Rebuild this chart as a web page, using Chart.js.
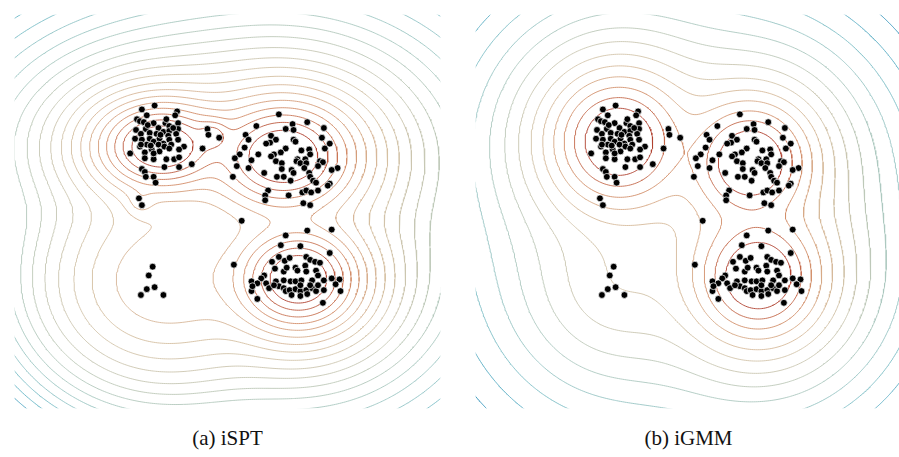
<!DOCTYPE html>
<html>
<head>
<meta charset="utf-8">
<script src="https://cdn.jsdelivr.net/npm/chart.js@4.4.0/dist/chart.umd.min.js"></script>
<style>
  html, body { margin: 0; padding: 0; background: #fff; overflow: hidden; }
  body { width: 899px; height: 457px; position: relative; }
  .panel { position: absolute; top: 10px; }
  #left { left: 10px; }
  #right { left: 471px; }
  .caption {
    position: absolute; top: 426px; width: 435px; text-align: center; line-height: 1.2;
    font-family: "Liberation Serif", "DejaVu Serif", serif; font-size: 21px; color: #111;
  }
</style>
</head>
<body>
<canvas id="left" class="panel" width="435" height="403"></canvas>
<canvas id="right" class="panel" width="435" height="403"></canvas>
<div class="caption" style="left:10px">(a) iSPT</div>
<div class="caption" style="left:471px">(b) iGMM</div>
<script>
// observations, same set in both panels
const clusterA = [
  [14.3,31.0],[16.6,30.4],[13.0,30.6],[13.5,30.0],[16.4,30.0],[12.5,29.6],[12.8,29.4],[13.2,29.3],
  [14.2,29.2],[15.4,29.2],[16.7,29.2],[15.8,28.9],[19.7,28.6],[12.4,28.5],[13.4,28.6],[14.7,28.7],
  [16.7,28.6],[13.8,28.2],[14.5,28.1],[15.2,28.3],[15.8,28.4],[12.9,28.1],[19.8,28.0],[20.9,27.7],
  [12.3,27.6],[13.8,27.6],[14.8,27.6],[15.7,27.9],[16.5,28.1],[13.0,27.5],[14.2,27.3],[15.2,27.1],
  [15.8,27.5],[16.7,27.5],[12.8,26.8],[13.5,27.0],[14.7,27.0],[15.3,26.8],[16.0,27.0],[17.3,26.8],
  [19.2,26.6],[11.8,26.1],[13.3,26.2],[14.0,26.5],[14.8,26.3],[15.8,26.6],[16.8,26.5],[13.3,25.6],
  [14.2,25.5],[15.5,25.5],[16.3,25.5],[16.8,25.7],[14.2,26.1],[18.1,25.0],[15.3,24.7],[16.8,24.7],
  [13.0,24.5],[13.3,24.2],[14.2,23.7],[14.4,23.1],[13.4,23.7],[12.7,21.5],[13.0,20.8],
  [13.6,29.0],[14.9,28.0],[13.9,26.9],[16.2,28.7],[12.9,27.0],[15.5,29.6]
];
const clusterB = [
  [27.0,30.1],[24.7,28.9],[27.7,28.6],[28.4,29.1],[28.5,28.5],[29.9,29.3],[31.6,28.7],[23.6,28.0],
  [23.9,27.5],[26.2,27.9],[26.7,27.5],[26.1,27.2],[25.7,27.1],[28.5,27.5],[28.7,27.3],[31.4,27.7],
  [31.7,26.6],[32.2,27.1],[23.5,26.7],[27.7,26.6],[27.2,26.2],[26.5,26.0],[26.2,25.8],[29.3,26.4],
  [30.1,26.5],[24.9,26.0],[23.0,26.0],[22.5,25.6],[30.2,26.0],[29.7,25.5],[28.9,25.5],[28.8,25.3],
  [24.2,25.4],[26.7,25.3],[27.3,25.1],[29.2,25.1],[29.8,25.1],[31.2,25.3],[31.5,25.2],[22.7,24.8],
  [23.9,24.6],[27.3,24.5],[28.3,24.4],[29.6,24.6],[31.0,24.8],[33.0,24.6],[32.4,24.4],[25.5,24.1],
  [28.5,24.1],[30.1,24.1],[22.3,23.7],[26.8,23.7],[27.5,23.7],[28.2,23.3],[30.2,23.7],[30.5,23.3],
  [30.8,23.1],[32.2,23.0],[32.0,22.8],[25.9,22.3],[25.6,21.8],[25.6,21.3],[28.0,21.8],[29.4,22.1],
  [29.8,22.3],[30.3,22.1],[31.0,22.3],[29.5,21.0],[30.2,20.8]
];
const clusterC = [
  [27.7,17.7],[29.9,18.2],[32.4,18.3],[27.2,16.7],[29.2,16.6],[32.2,15.9],[26.3,15.0],[27.0,15.5],
  [27.6,15.1],[28.1,15.4],[29.8,15.5],[30.2,15.2],[30.7,15.0],[31.2,14.9],[26.6,14.3],[27.5,14.0],
  [27.8,14.4],[28.7,14.4],[28.9,14.1],[29.7,14.6],[29.8,14.0],[30.8,14.1],[31.0,13.6],[25.5,13.6],
  [25.2,13.3],[24.2,13.0],[24.8,12.8],[25.7,12.8],[26.7,13.0],[27.5,13.1],[28.2,13.0],[28.7,13.0],
  [29.3,13.1],[30.4,13.1],[31.6,13.1],[32.4,13.3],[33.2,13.2],[32.8,12.7],[24.2,12.0],[24.8,11.2],
  [27.0,12.5],[27.5,12.3],[27.7,12.0],[28.1,12.1],[28.3,11.6],[28.7,12.2],[29.2,12.0],[29.2,11.5],
  [29.8,12.1],[29.9,11.7],[30.4,12.3],[30.8,12.0],[30.2,12.6],[31.6,12.1],[31.5,10.8],[33.3,12.0],
  [26.0,12.3],[29.2,12.6],[31.0,12.6],[26.5,12.6],[24.3,12.5]
];
const triangle = [[14.1,14.5],[13.7,13.6],[13.5,12.2],[14.3,12.4],[12.9,11.6],[15.2,11.6]];
const strays = [[23.2,19.2],[22.4,14.7]];

// fitted densities: [cx, cy, sx, sy, rho, weight, nu] (Student-t components)
const isptComponents = [
  [15.0, 26.8, 2.6, 1.8, 0.0, 0.224, 4],
  [27.5, 25.8, 3.0, 2.3, 0.0, 0.33, 4],
  [29.0, 13.2, 2.5, 2.1, 0.0, 0.25, 4],
  [20.2, 27.9, 1.0, 0.9, 0.0, 0.011, 4],
  [12.9, 21.2, 1.0, 1.0, 0.0, 0.0012, 4],
  [15.2, 13.0, 5.6, 4.8, 0.0, 0.043, 100]
];
const igmmComponents = [
  [14.6, 27.3, 3.0, 3.0, 0.0, 0.30, 3],
  [28.1, 25.2, 2.8, 2.8, 0.0, 0.26, 3],
  [28.9, 13.5, 2.9, 2.9, 0.0, 0.28, 3],
  [14.3, 12.6, 6.0, 6.0, 0.0, 0.03, 3]
];
// contour levels below the peak: first offset, then spacing (log density)
const isptLevels = { offset: 0.87, step: 0.48 };
const igmmLevels = { offset: 0.9, step: 0.5 };

const xRange = [0, 43.5];
const yRange = [0, 40.3];

// low density -> high density
const palette = [
  [0.00, [45, 145, 185]],
  [0.10, [100, 180, 198]],
  [0.20, [140, 195, 198]],
  [0.32, [170, 200, 192]],
  [0.45, [195, 200, 182]],
  [0.60, [212, 195, 168]],
  [0.72, [216, 178, 145]],
  [0.83, [212, 145, 108]],
  [0.92, [195, 105, 75]],
  [1.00, [176, 66, 48]]
];

function colorAt(t) {
  for (let i = 1; i < palette.length; i++) {
    const [t1, c1] = palette[i];
    const [t0, c0] = palette[i - 1];
    if (t <= t1) {
      const f = (t - t0) / (t1 - t0);
      const c = c0.map((v, k) => Math.round(v + f * (c1[k] - v)));
      return `rgb(${c[0]},${c[1]},${c[2]})`;
    }
  }
  const c = palette[palette.length - 1][1];
  return `rgb(${c[0]},${c[1]},${c[2]})`;
}

function logDensity(comps, x, y) {
  let p = 0;
  for (const [cx, cy, sx, sy, rho, w, nu] of comps) {
    const dx = (x - cx) / sx, dy = (y - cy) / sy;
    const q = (dx * dx - 2 * rho * dx * dy + dy * dy) / (1 - rho * rho);
    p += w / (2 * Math.PI * sx * sy * Math.sqrt(1 - rho * rho)) * Math.pow(1 + q / nu, -(nu + 2) / 2);
  }
  return Math.log(p);
}

// marching squares, segments chained into polylines, NaN-separated
function contourLevel(field, nx, ny, x0, y0, h, level) {
  const pts = new Map();
  const segs = [];
  const ep = (id, xa, ya, va, xb, yb, vb) => {
    if (!pts.has(id)) {
      const t = (level - va) / (vb - va);
      pts.set(id, [xa + t * (xb - xa), ya + t * (yb - ya)]);
    }
    return id;
  };
  for (let j = 0; j < ny - 1; j++) {
    for (let i = 0; i < nx - 1; i++) {
      const v0 = field[j * nx + i], v1 = field[j * nx + i + 1];
      const v2 = field[(j + 1) * nx + i + 1], v3 = field[(j + 1) * nx + i];
      const c = (v0 > level ? 1 : 0) | (v1 > level ? 2 : 0) | (v2 > level ? 4 : 0) | (v3 > level ? 8 : 0);
      if (c === 0 || c === 15) continue;
      const x = x0 + i * h, y = y0 + j * h;
      const E0 = () => ep(2 * (j * nx + i), x, y, v0, x + h, y, v1);
      const E1 = () => ep(2 * (j * nx + i + 1) + 1, x + h, y, v1, x + h, y + h, v2);
      const E2 = () => ep(2 * ((j + 1) * nx + i), x, y + h, v3, x + h, y + h, v2);
      const E3 = () => ep(2 * (j * nx + i) + 1, x, y, v0, x, y + h, v3);
      const mid = (v0 + v1 + v2 + v3) / 4 > level;
      switch (c) {
        case 1: case 14: segs.push([E3(), E0()]); break;
        case 2: case 13: segs.push([E0(), E1()]); break;
        case 3: case 12: segs.push([E3(), E1()]); break;
        case 4: case 11: segs.push([E1(), E2()]); break;
        case 6: case 9: segs.push([E0(), E2()]); break;
        case 7: case 8: segs.push([E3(), E2()]); break;
        case 5:
          if (mid) { segs.push([E0(), E1()]); segs.push([E2(), E3()]); }
          else { segs.push([E3(), E0()]); segs.push([E1(), E2()]); }
          break;
        case 10:
          if (mid) { segs.push([E3(), E0()]); segs.push([E1(), E2()]); }
          else { segs.push([E0(), E1()]); segs.push([E2(), E3()]); }
          break;
      }
    }
  }
  const byEdge = new Map();
  segs.forEach(([a, b], k) => {
    if (!byEdge.has(a)) byEdge.set(a, []);
    if (!byEdge.has(b)) byEdge.set(b, []);
    byEdge.get(a).push(k);
    byEdge.get(b).push(k);
  });
  const used = new Uint8Array(segs.length);
  const walk = (start) => {
    const out = [];
    let tip = start;
    for (;;) {
      const next = byEdge.get(tip).find(s => !used[s]);
      if (next === undefined) break;
      used[next] = 1;
      const [a, b] = segs[next];
      tip = a === tip ? b : a;
      out.push(tip);
    }
    return out;
  };
  const data = [];
  for (let k = 0; k < segs.length; k++) {
    if (used[k]) continue;
    used[k] = 1;
    const fwd = walk(segs[k][1]);
    const back = walk(segs[k][0]).reverse();
    const chain = back.concat([segs[k][0], segs[k][1]], fwd);
    for (const id of chain) {
      const p = pts.get(id);
      data.push({ x: p[0], y: p[1] });
    }
    data.push({ x: NaN, y: null });
  }
  return data;
}

function contourDatasets(comps, levels) {
  const h = 0.2;
  const x0 = xRange[0] - 0.6, y0 = yRange[0] - 0.6;
  const nx = Math.ceil((xRange[1] - xRange[0] + 1.2) / h) + 1;
  const ny = Math.ceil((yRange[1] - yRange[0] + 1.2) / h) + 1;
  const field = new Float64Array(nx * ny);
  let hi = -Infinity, lo = Infinity;
  for (let j = 0; j < ny; j++) {
    for (let i = 0; i < nx; i++) {
      const v = logDensity(comps, x0 + i * h, y0 + j * h);
      field[j * nx + i] = v;
      if (v > hi) hi = v;
      if (v < lo) lo = v;
    }
  }
  const values = [];
  for (let L = hi - levels.offset; L > lo; L -= levels.step) values.push(L);
  const n = values.length;
  return values.map((L, k) => ({
    data: contourLevel(field, nx, ny, x0, y0, h, L),
    showLine: true,
    spanGaps: false,
    pointRadius: 0,
    borderWidth: 0.9,
    borderColor: colorAt(n > 1 ? 1 - k / (n - 1) : 1),
    fill: false
  }));
}

const observed = clusterA.concat(clusterB, clusterC, triangle, strays).map(([x, y]) => ({ x, y }));

function drawPanel(id, comps, levels) {
  const ctx = document.getElementById(id).getContext('2d');
  return new Chart(ctx, {
    type: 'scatter',
    data: {
      datasets: [{
        data: observed,
        pointRadius: 3.4,
        pointBackgroundColor: '#000',
        pointBorderColor: '#fff',
        pointBorderWidth: 0.7
      }].concat(contourDatasets(comps, levels))
    },
    options: {
      responsive: false,
      animation: false,
      events: [],
      layout: { padding: 0 },
      plugins: { legend: { display: false }, tooltip: { enabled: false } },
      scales: {
        x: { type: 'linear', min: xRange[0], max: xRange[1], display: false },
        y: { type: 'linear', min: yRange[0], max: yRange[1], display: false }
      }
    }
  });
}

drawPanel('left', isptComponents, isptLevels);
drawPanel('right', igmmComponents, igmmLevels);
</script>
</body>
</html>
